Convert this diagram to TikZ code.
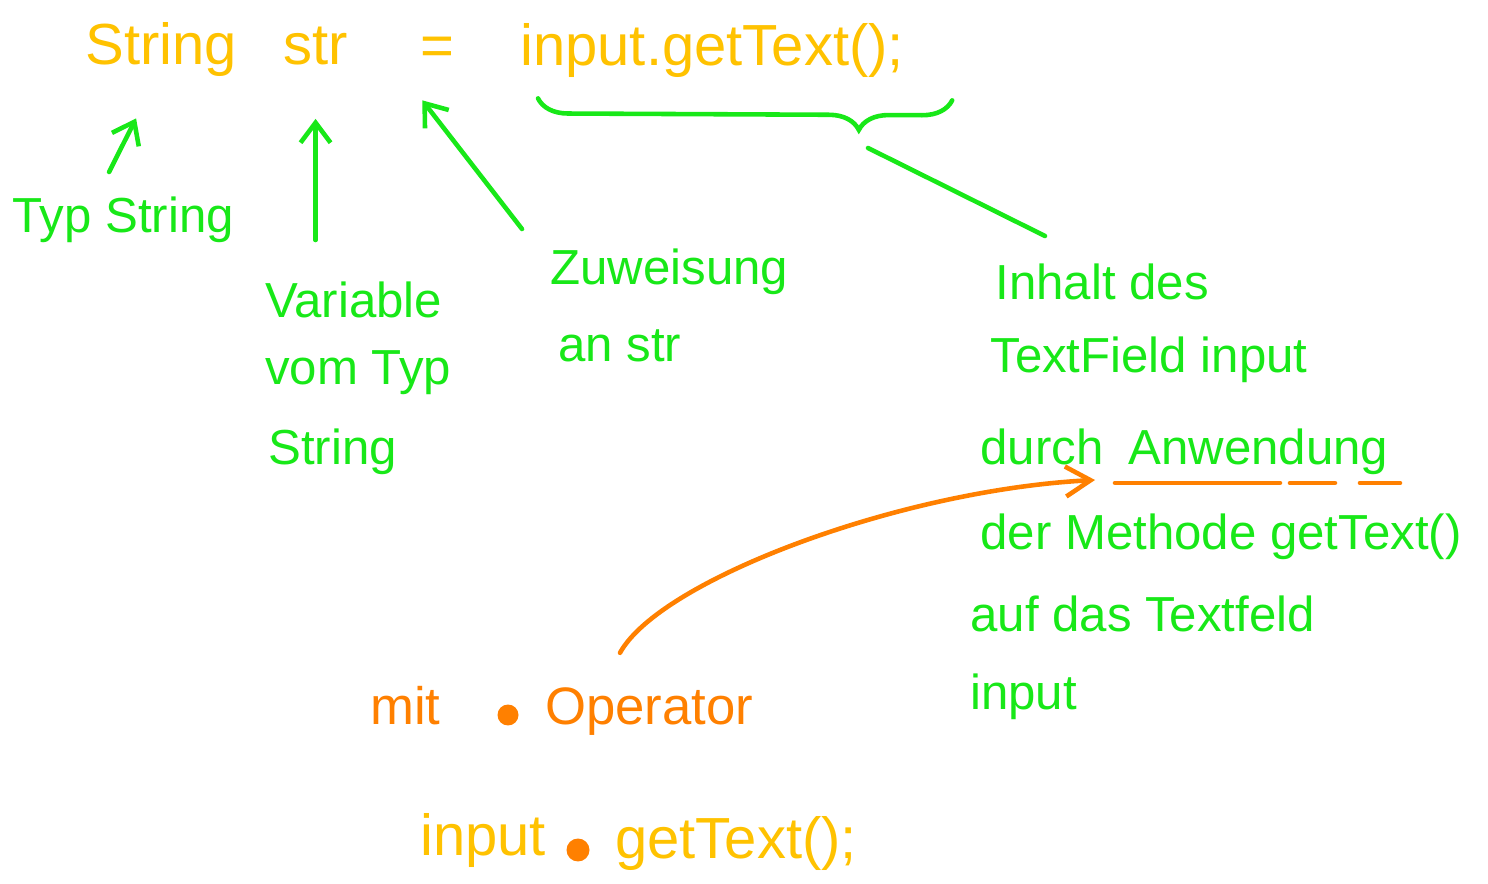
\documentclass[tikz,border=0pt]{standalone}
\usepackage{fontspec}
\setmainfont{Liberation Sans}
\usetikzlibrary{arrows.meta}
\usetikzlibrary{decorations.pathreplacing}
\usetikzlibrary{calc}

\definecolor{codeyellow}{RGB}{255,194,0}
\definecolor{notegreen}{RGB}{24,232,24}
\definecolor{opcolor}{RGB}{255,128,0}

\begin{document}
\begin{tikzpicture}[x=0.02cm,y=-0.02cm]
        \tikzset{code/.style = {text=codeyellow,font=\fontsize{33}{40}\selectfont,anchor=base west,inner sep=0pt}}
        \tikzset{note/.style = {text=notegreen,font=\fontsize{28}{34}\selectfont,anchor=base west,inner sep=0pt}}
        \tikzset{optext/.style = {text=opcolor,font=\fontsize{30}{36}\selectfont,anchor=base west,inner sep=0pt}}
        \tikzset{opdot/.style = {circle,fill=opcolor,inner sep=0pt,minimum size=0.42cm}}
        \tikzset{edge/.style = {-{Straight Barb[length=4mm,width=6mm]},line width=2.6pt,notegreen,line cap=round,line join=round}}
        \tikzset{link/.style = {line width=2.6pt,notegreen,line cap=round}}
        \tikzset{oparrow/.style = {-{Straight Barb[length=5mm,width=6mm]},line width=2.6pt,opcolor,line cap=round,line join=round}}

        \useasboundingbox (0,0) rectangle (1488,884);
        \fill[white] (0,0) rectangle (1488,884);

        % the code line
        \node[code] (strg) at (85,65) {String};
        \node[code] (str) at (283,65) {str};
        \node[code] (eq) at (420,66) {=};
        \node[code] (call) at (520,66) {input.getText();};

        % notes in green
        \node[note] (typ) at (12,233) {Typ String};
        \node[note] (var1) at (265,318) {Variable};
        \node[note] (var2) at (265,385) {vom Typ};
        \node[note] (var3) at (268,465) {String};
        \node[note] (zuw1) at (550,285) {Zuweisung};
        \node[note] (zuw2) at (558,362) {an str};
        \node[note] (inh1) at (995,300) {Inhalt des};
        \node[note] (inh2) at (990,373) {TextField input};
        \node[note] (durch) at (980,465) {durch};
        \node[note] (anw) at (1128,465) {Anwendung};
        \node[note] (inh4) at (980,550) {der Methode getText()};
        \node[note] (inh5) at (970,632) {auf das Textfeld};
        \node[note] (inh6) at (970,710) {input};

        % the dot operator
        \node[optext] (mit) at (370,725) {mit};
        \node[opdot] (dot1) at (508,715) {};
        \node[optext] (op) at (545,725) {Operator};

        \node[code] (inp) at (420,855) {input};
        \node[opdot,minimum size=0.46cm] (dot2) at (578,850) {};
        \node[code] (gett) at (615,858) {getText();};

        % arrows
        \draw[edge] ($(typ.north)+(-14,-25)$) -- ($(strg.south)+(-25,41)$);
        \draw[edge] ($(str.south |- var1.north)+(0,-42)$) -- ($(str.south)+(0,53)$);
        \draw[edge] ($(zuw1.north west)+(-28,-20)$) -- ($(eq.south)+(-15,34)$);

        \coordinate (brl) at ($(call.south west)+(18,20)$);
        \coordinate (brr) at ($(call.south east)+(48,22)$);
        \coordinate (bracetip) at (868,148);
        \draw[link,decorate,decoration={brace,mirror,amplitude=0.6cm,aspect=0.775}] (brl) -- (brr);
        \draw[link] (bracetip) -- ($(inh1.north west)+(50,-28)$);

        \draw[oparrow] ($(op.north west)+(75,-35)$) .. controls (660,580) and (900,490) .. ($(anw.base west)+(-33,15)$);
        \draw[opcolor,line width=2.6pt,line cap=round,dash pattern=on 3.3cm off 0.2cm on 0.9cm off 0.5cm on 0.9cm] ($(anw.base west)+(-13,18)$) -- ++(285,0);

\end{tikzpicture}
\end{document}
